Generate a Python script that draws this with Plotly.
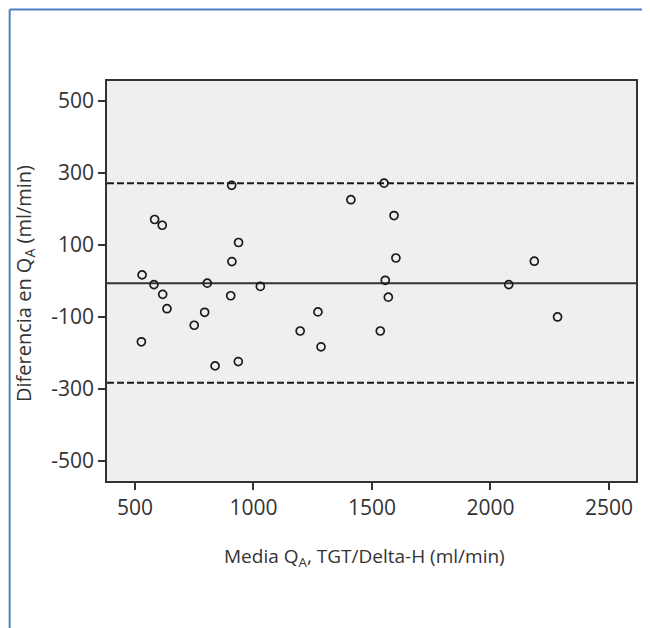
import plotly.graph_objects as go

# Bland-Altman data: mean of the two methods (x) and difference (y)
media = [908, 583, 615, 937, 909, 530, 580, 805, 1029, 617, 904, 635, 794, 750, 527, 936, 838,
         1551, 1411, 1593, 1601, 1556, 1569, 1272, 1197, 1535, 1285,
         2185, 2077, 2283]
diferencia = [266, 171, 155, 107, 54, 17, -10, -6, -15, -37, -41, -77, -87, -123, -169, -224, -236,
              272, 226, 182, 64, 2, -45, -86, -139, -139, -183,
              55, -10, -100]

mean_diff = -6
upper_loa = 272
lower_loa = -283

x_ticks = [500, 1000, 1500, 2000, 2500]
y_ticks = [500, 300, 100, -100, -300, -500]
x_range = [382, 2614]
y_range = [-556, 556]

FONT = "Open Sans"
TXT = "#333333"

fig = go.Figure()

for val, dash in [(upper_loa, "dash"), (lower_loa, "dash"), (mean_diff, "solid")]:
    fig.add_trace(go.Scatter(
        x=x_range, y=[val, val], mode="lines",
        line=dict(color="#1a1a1a" if dash == "dash" else "#333333", width=2,
                  dash="7px,3px" if dash == "dash" else "solid"),
        hoverinfo="skip", showlegend=False))

fig.add_trace(go.Scatter(
    x=media, y=diferencia, mode="markers",
    marker=dict(symbol="circle-open", size=8, color="#1a1a1a", line=dict(width=1.7, color="#1a1a1a")),
    showlegend=False))

fig.update_layout(
    width=642, height=620,
    margin=dict(l=99, r=14, t=73, b=147),
    paper_bgcolor="white",
    plot_bgcolor="#eeefee",
    font=dict(family=FONT, color=TXT),
    xaxis=dict(range=x_range, tickvals=x_ticks, ticktext=[str(v) for v in x_ticks],
               showgrid=False, zeroline=False, showline=True, linecolor="#333333", linewidth=1.5,
               mirror=True, ticks="outside", ticklen=7, tickwidth=1.5, tickcolor="#333333",
               tickfont=dict(size=21, family=FONT, color=TXT)),
    yaxis=dict(range=y_range, tickvals=y_ticks, ticktext=[str(v) for v in y_ticks],
               showgrid=False, zeroline=False, showline=True, linecolor="#333333", linewidth=1.5,
               mirror=True, ticks="outside", ticklen=7, tickwidth=1.5, tickcolor="#333333",
               tickfont=dict(size=21, family=FONT, color=TXT)),
    annotations=[
        dict(text="Media Q<sub>A</sub>, TGT/Delta-H (ml/min)", xref="paper", yref="paper",
             x=0.487, y=-0.19, xanchor="center", yanchor="middle", showarrow=False,
             font=dict(size=19, family=FONT, color=TXT)),
        dict(text="Diferencia en Q<sub>A</sub> (ml/min)", xref="paper", yref="paper",
             x=-0.157, y=0.495, xanchor="center", yanchor="middle", showarrow=False, textangle=-90,
             font=dict(size=20, family=FONT, color=TXT)),
    ],
    shapes=[
        dict(type="line", xref="paper", yref="paper", x0=-0.184, x1=-0.184, y0=1.179, y1=-0.5,
             line=dict(color="#4f7fc0", width=2)),
        dict(type="line", xref="paper", yref="paper", x0=-0.184, x1=1.1, y0=1.179, y1=1.179,
             line=dict(color="#4f7fc0", width=2)),
    ],
)

fig.write_html("out.html")
